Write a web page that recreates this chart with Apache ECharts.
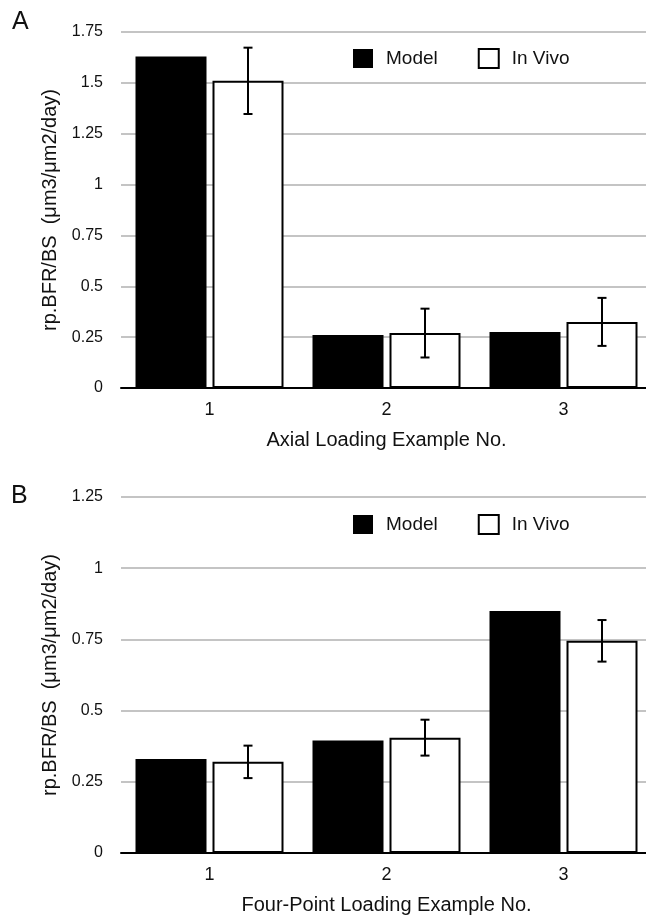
<!DOCTYPE html>
<html>
<head>
<meta charset="utf-8">
<script src="https://cdn.jsdelivr.net/npm/echarts@6/dist/echarts.min.js"></script>
<style>
html,body{margin:0;padding:0;background:#fff;overflow:hidden;width:646px;height:919px;}
#chart{width:660px;height:919px;}
</style>
</head>
<body>
<div id="chart"></div>
<script>
// ---- data ----
var categories = ['1', '2', '3'];
var axialModel = [1.63, 0.26, 0.275];
var axialInVivo = [1.51, 0.27, 0.325];
var axialErr = [0.163, 0.12, 0.118];
var fourPointModel = [0.33, 0.395, 0.85];
var fourPointInVivo = [0.32, 0.405, 0.745];
var fourPointErr = [0.057, 0.063, 0.073];
var yTicksA = [0, 0.25, 0.5, 0.75, 1, 1.25, 1.5, 1.75];
var yTicksB = [0, 0.25, 0.5, 0.75, 1, 1.25];
var xTitleA = 'Axial Loading Example No.';
var xTitleB = 'Four-Point Loading Example No.';
var yTitle = 'rp.BFR/BS  (\u03bcm3/\u03bcm2/day)';

// ---- styling constants ----
var FONT = '"Liberation Sans", Arial, Helvetica, sans-serif';
var TXT = '#111';
var BAR_W = 71;
var BAR_GAP_PX = 6;
var OFFSET = (BAR_W + BAR_GAP_PX) / 2;

function errData(vals, errs) {
  return vals.map(function (v, i) { return [i, v - errs[i], v + errs[i]]; });
}

function errRender(params, api) {
  var idx = api.value(0);
  var lo = api.coord([idx, api.value(1)]);
  var hi = api.coord([idx, api.value(2)]);
  var x = lo[0] + OFFSET;
  var cw = 4.5;
  var st = { stroke: '#000', lineWidth: 2 };
  return {
    type: 'group',
    children: [
      { type: 'line', shape: { x1: x, y1: lo[1], x2: x, y2: hi[1] }, style: st },
      { type: 'line', shape: { x1: x - cw, y1: lo[1], x2: x + cw, y2: lo[1] }, style: st },
      { type: 'line', shape: { x1: x - cw, y1: hi[1], x2: x + cw, y2: hi[1] }, style: st }
    ]
  };
}

function xAxis(gridIndex, title) {
  return {
    type: 'category', gridIndex: gridIndex, data: categories,
    axisLine: { lineStyle: { color: '#000', width: 2 } },
    axisTick: { show: false },
    axisLabel: { color: TXT, fontSize: 18, fontFamily: FONT, margin: 13 },
    name: title, nameLocation: 'middle', nameGap: 42,
    nameTextStyle: { color: TXT, fontSize: 20, fontFamily: FONT }
  };
}

function yAxis(gridIndex, ticks) {
  return {
    type: 'value', gridIndex: gridIndex,
    min: ticks[0], max: ticks[ticks.length - 1], interval: ticks[1] - ticks[0],
    axisLine: { show: false }, axisTick: { show: false },
    axisLabel: { color: TXT, fontSize: 16, fontFamily: FONT, margin: 18 },
    splitLine: { lineStyle: { color: '#c4c4c4', width: 2 } },
    name: yTitle, nameLocation: 'middle', nameGap: 60, nameRotate: 90,
    nameTextStyle: { color: TXT, fontSize: 20, fontFamily: FONT }
  };
}

var modelStyle = { color: '#000' };
var vivoStyle = { color: '#fff', borderColor: '#000', borderWidth: 2 };

function legend(top) {
  return {
    left: 353, top: top, orient: 'horizontal', padding: 0,
    itemWidth: 20, itemHeight: 19, itemGap: 40,
    icon: 'rect',
    textStyle: { color: TXT, fontSize: 19, fontFamily: FONT, padding: [0, 0, 0, 8] },
    data: [
      { name: 'Model', itemStyle: { color: '#000', borderWidth: 0 } },
      { name: 'In Vivo', itemStyle: { color: '#fff', borderColor: '#000', borderWidth: 2 } }
    ],
    selectedMode: false
  };
}

var option = {
  animation: false,
  backgroundColor: '#fff',
  textStyle: { fontFamily: FONT },
  grid: [
    { left: 121, top: 32, width: 531, height: 356 },
    { left: 121, top: 497, width: 531, height: 356 }
  ],
  legend: [legend(48), legend(514)],
  graphic: [
    { type: 'text', left: 12, top: 10, style: { text: 'A', fontSize: 25, fontFamily: FONT, fill: TXT } },
    { type: 'text', left: 11, top: 484, style: { text: 'B', fontSize: 25, fontFamily: FONT, fill: TXT } }
  ],
  xAxis: [xAxis(0, xTitleA), xAxis(1, xTitleB)],
  yAxis: [yAxis(0, yTicksA), yAxis(1, yTicksB)],
  series: [
    { name: 'Model', type: 'bar', xAxisIndex: 0, yAxisIndex: 0, data: axialModel,
      barWidth: BAR_W, barGap: (BAR_GAP_PX / BAR_W * 100) + '%', itemStyle: modelStyle },
    { name: 'In Vivo', type: 'bar', xAxisIndex: 0, yAxisIndex: 0, data: axialInVivo,
      barWidth: BAR_W, barGap: (BAR_GAP_PX / BAR_W * 100) + '%', itemStyle: vivoStyle },
    { type: 'custom', xAxisIndex: 0, yAxisIndex: 0, renderItem: errRender,
      data: errData(axialInVivo, axialErr), z: 10 },
    { name: 'Model', type: 'bar', xAxisIndex: 1, yAxisIndex: 1, data: fourPointModel,
      barWidth: BAR_W, barGap: (BAR_GAP_PX / BAR_W * 100) + '%', itemStyle: modelStyle },
    { name: 'In Vivo', type: 'bar', xAxisIndex: 1, yAxisIndex: 1, data: fourPointInVivo,
      barWidth: BAR_W, barGap: (BAR_GAP_PX / BAR_W * 100) + '%', itemStyle: vivoStyle },
    { type: 'custom', xAxisIndex: 1, yAxisIndex: 1, renderItem: errRender,
      data: errData(fourPointInVivo, fourPointErr), z: 10 }
  ]
};

var chart = echarts.init(document.getElementById('chart'), null, { renderer: 'canvas' });
chart.setOption(option);
</script>
</body>
</html>
